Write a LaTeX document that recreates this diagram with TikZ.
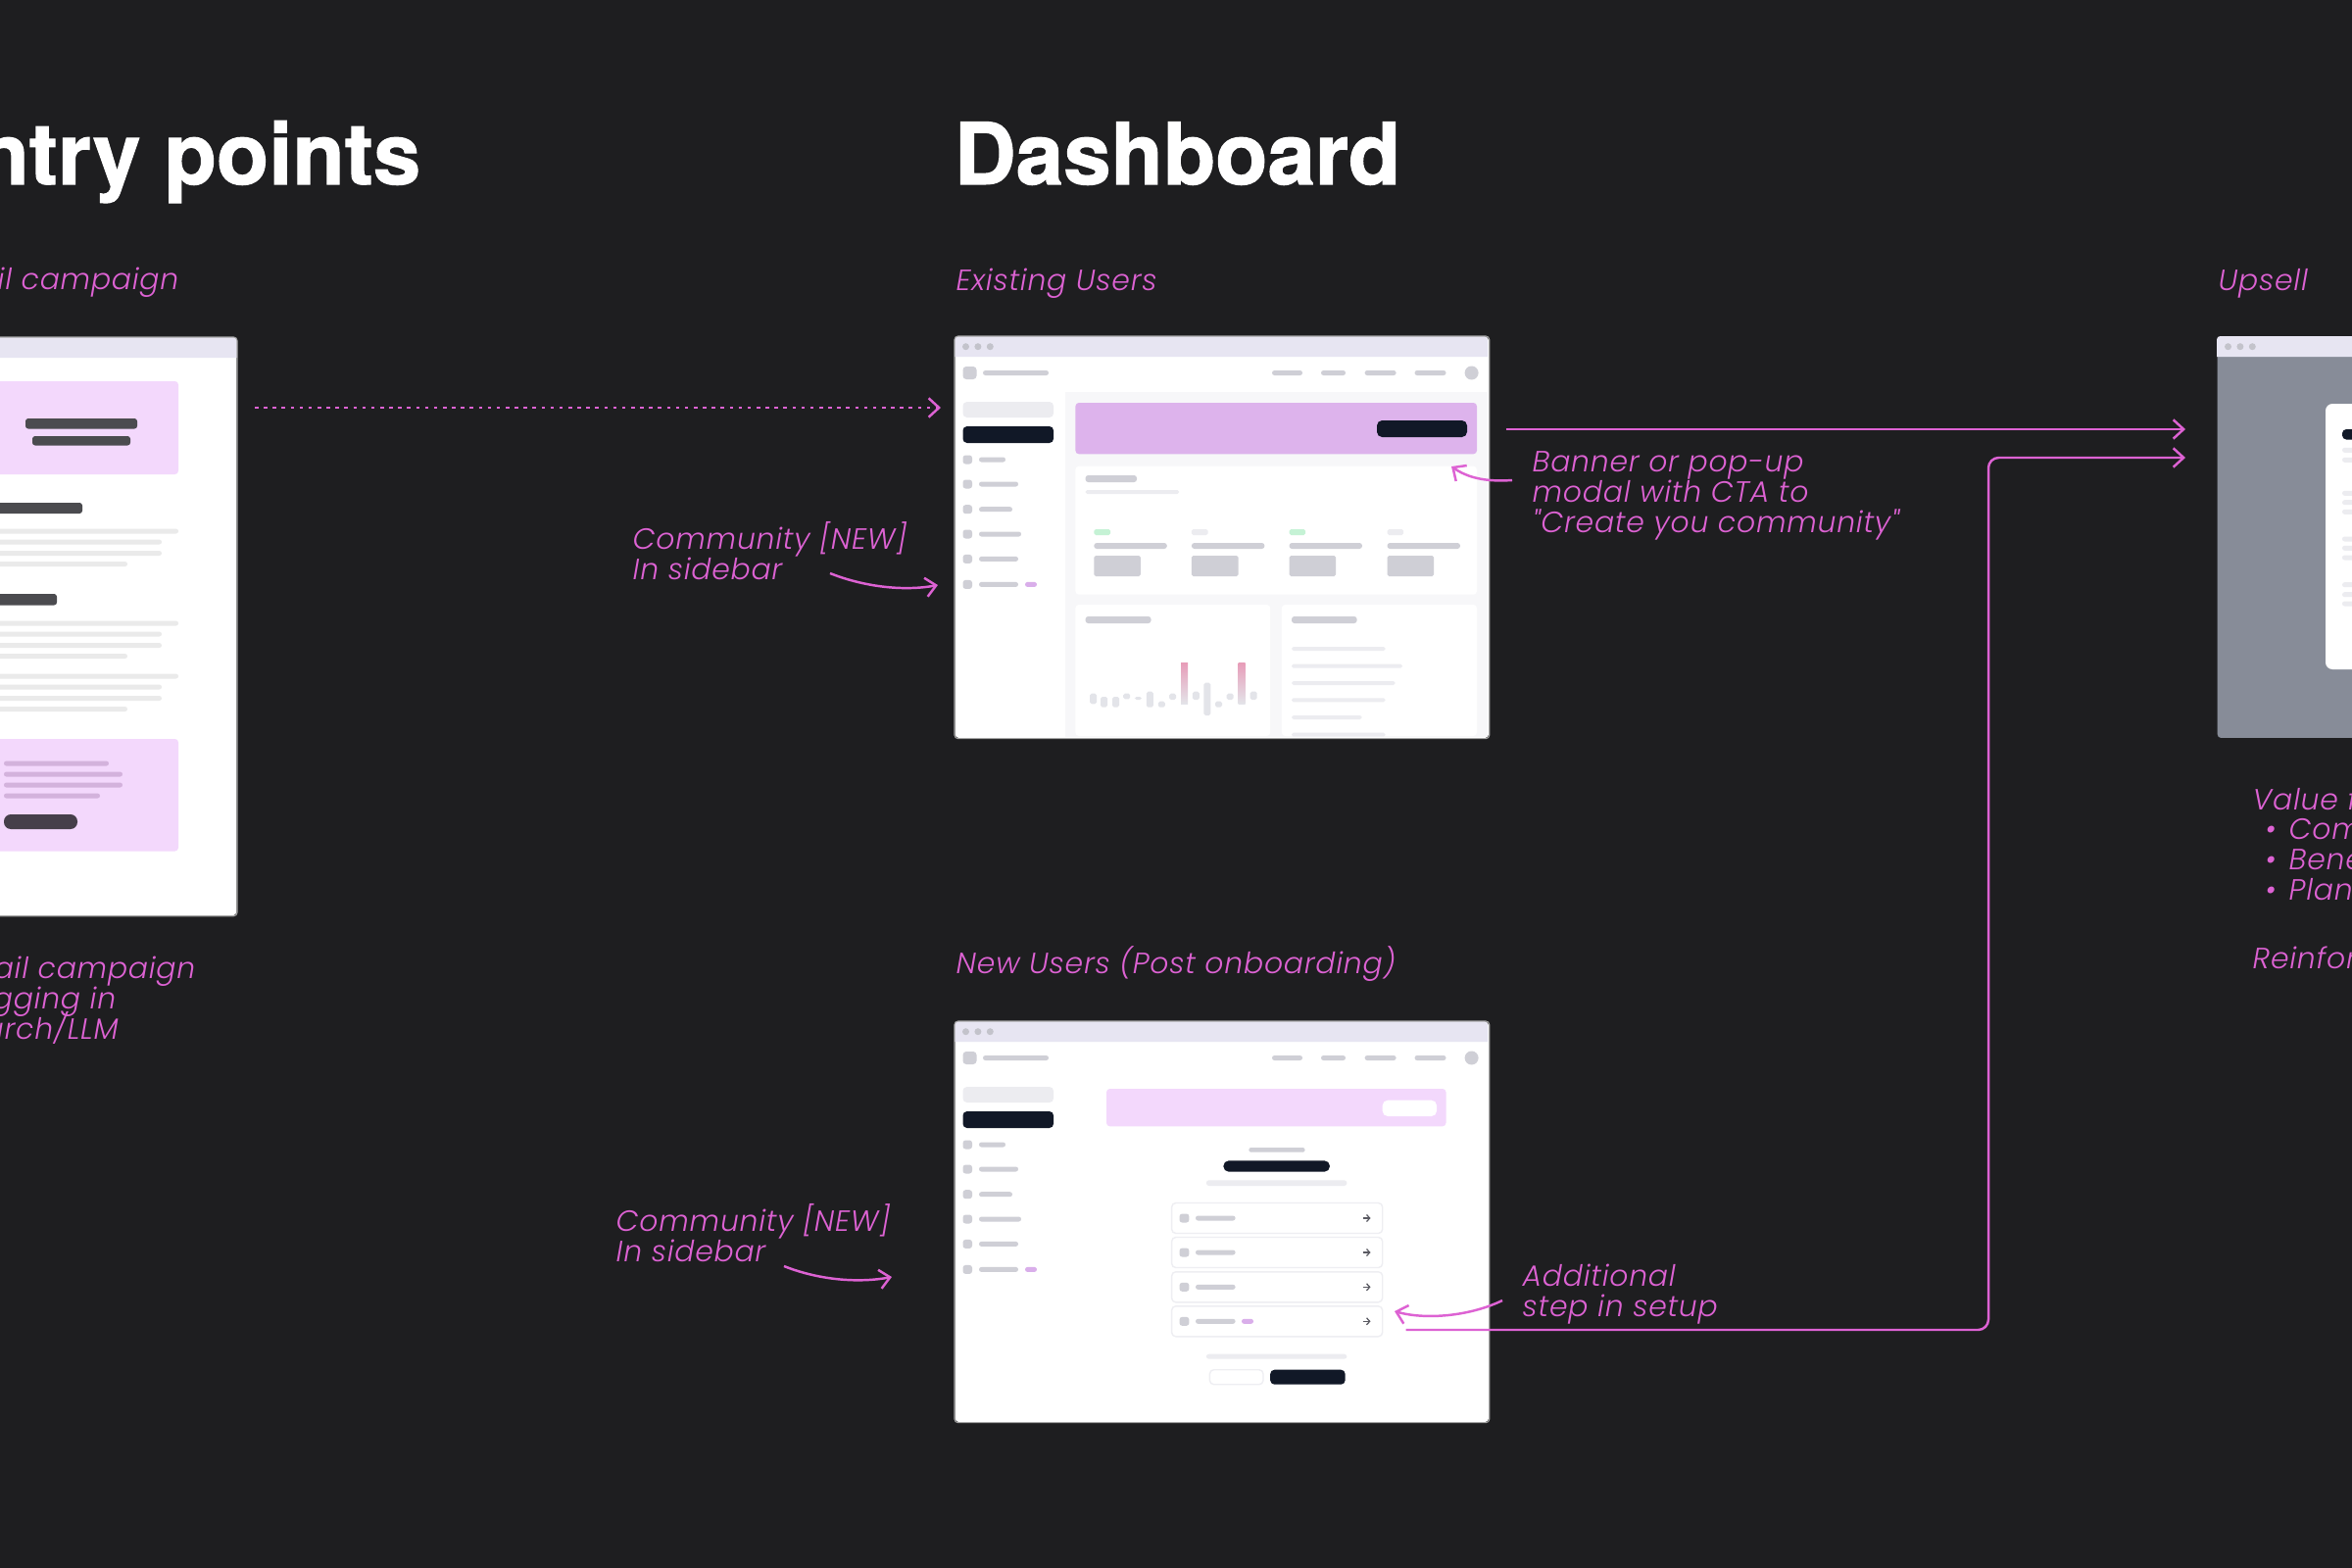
\documentclass[tikz,border=0pt]{standalone}
\usepackage{fontspec}
\setmainfont{TeX Gyre Heros}[BoldFeatures={FakeBold=1.2}]
\newfontfamily\handfont{Poppins Light Italic}[LetterSpace=2.5]
\newcommand\handtext{\handfont\fontsize{8.5}{8.7}\selectfont\setlength{\lineskiplimit}{-6pt}}
\usetikzlibrary{arrows.meta,calc}

\definecolor{bgdark}{HTML}{1E1E20}
\definecolor{notepink}{HTML}{DD62D3}
\definecolor{titlebar}{HTML}{E7E5F2}
\definecolor{dotgrey}{HTML}{C3C3CB}
\definecolor{uigrey}{HTML}{CFCFD6}
\definecolor{uilight}{HTML}{ECECF0}
\definecolor{uipane}{HTML}{F7F7F9}
\definecolor{uidark}{HTML}{111827}
\definecolor{bannerpurple}{HTML}{DDB3EC}
\definecolor{softpink}{HTML}{F3D8FC}
\definecolor{tagpink}{HTML}{D9AEEA}
\definecolor{taggreen}{HTML}{C5F2D5}
\definecolor{chartgrey}{HTML}{E3E4E9}
\definecolor{chartpink}{HTML}{E79DB9}
\definecolor{mailgrey}{HTML}{4B4B4F}
\definecolor{mailline}{HTML}{EAEAEA}
\definecolor{mailpinkline}{HTML}{D3B2DC}
\definecolor{mailbtn}{HTML}{463F4A}
\definecolor{dimmed}{HTML}{878C98}
\definecolor{rowedge}{HTML}{EEEEF2}
\definecolor{arrowgrey}{HTML}{5A5A62}

\begin{document}
\begin{tikzpicture}[x=0.01cm, y=-0.01cm,
    heading/.style={inner sep=0pt, text=white, font=\bfseries\fontsize{24.8}{28}\selectfont},
    hand/.style={inner sep=0pt, text=notepink, align=left, font=\handtext},
    frame/.style={fill=white, inner sep=0pt, rounded corners=1pt},
    rim/.style={draw=black!35, line width=0.3pt, rounded corners=1pt},
    flow/.style={draw=notepink, line width=0.7pt, -{Straight Barb[length=3pt, width=5.5pt]}},
    dotflow/.style={flow, dash pattern=on 1pt off 1.6pt}]

    % Define the small ui pieces
    \def\pill#1#2#3#4{\fill[#1, rounded corners=0.7pt] (#2,#4-2.5) rectangle (#3,#4+2.5);}
    \def\titlebar#1#2#3{
      \fill[titlebar] (#1,#3+21) [rounded corners=1pt] -- (#1,#3) -- (#2,#3) [sharp corners] -- (#2,#3+21) -- cycle;
      \foreach \i in {0,1,2} {\fill[dotgrey] (#1+11.5+12.4*\i, #3+10.7) circle (3.5);}
    }
    \def\appshell#1{
      \titlebar{974}{1518}{#1}
      \fill[uigrey, rounded corners=1pt] (982.5,#1+31) rectangle (996.5,#1+44);
      \pill{uigrey}{1003}{1070}{#1+37.5}
      \foreach \a/\b in {1298/1329, 1348/1373, 1392.6/1424.6, 1443.5/1475.5} {\pill{uigrey}{\a}{\b}{#1+37.5}}
      \fill[uigrey] (1501.6,#1+37.5) circle (7);
      \fill[uilight, rounded corners=1.2pt] (982.5,#1+67) rectangle (1075,#1+83);
      \fill[uidark, rounded corners=1.2pt] (982.5,#1+92) rectangle (1075,#1+109);
      \foreach \dy/\w in {126/1026, 151/1039, 176.7/1033, 202/1042, 227.4/1039, 253.4/1039} {
        \fill[uigrey, rounded corners=0.8pt] (982.5,#1+\dy-4.5) rectangle (992,#1+\dy+4.5);
        \pill{uigrey}{999}{\w}{#1+\dy}
      }
      \pill{tagpink}{1046}{1058}{#1+253.4}
    }

    % Canvas
    \useasboundingbox (0,0) rectangle (2400,1600);
    \clip (0,0) rectangle (2400,1600);
    \fill[bgdark] (0,0) rectangle (2400,1600);

    % Headings
    \node[heading, anchor=base east] (entryhead) at (430,188) {Entry points};
    \node[heading, anchor=base west] (dashhead) at (973,188) {Dashboard};

    % Column labels
    \node[hand, anchor=base east] (mailsub) at (183,295) {Email campaign};
    \node[hand, anchor=base west] (existsub) at (975,296) {Existing Users};
    \node[hand, anchor=base west] (newsub) at (975,993) {New Users (Post onboarding)};
    \node[hand, anchor=base west] (upsub) at (2263,296) {Upsell};

    % Email campaign frame
    \node[frame, anchor=north east, minimum width=3.2cm, minimum height=5.89cm] (email) at (242,344) {};
    \fill[titlebar] (-80,365) [rounded corners=1pt] -- (-80,344) -- (242,344) [sharp corners] -- (242,365) -- cycle;
    \fill[softpink, rounded corners=1pt] (-80,389) rectangle (182,484);
    \fill[mailgrey, rounded corners=0.8pt] (26,427) rectangle (140,437.5);
    \fill[mailgrey, rounded corners=0.8pt] (33,445) rectangle (133,454.5);
    \fill[mailgrey, rounded corners=0.8pt] (-80,513) rectangle (84,524);
    \fill[mailgrey, rounded corners=0.8pt] (-80,606) rectangle (58,617.5);
    \foreach \y in {542,636,690} {
      \foreach \dy/\w in {0/182, 11/165, 22.5/165, 33.5/130} {\pill{mailline}{-80}{\w}{\y+\dy}}
    }
    \fill[softpink, rounded corners=1pt] (-80,754) rectangle (182,868.5);
    \foreach \y/\w in {779/111, 790/125, 801/125, 812/102} {\pill{mailpinkline}{4}{\w}{\y}}
    \fill[mailbtn, rounded corners=2pt] (4,831) rectangle (79,846);
    \draw[rim] (email.north west) rectangle (email.south east);

    \node[hand, anchor=base east] (mailnote) at (200,1060) {Email campaign\\Blogging in\\Search/LLM};

    % Existing users frame
    \node[frame, anchor=north west, minimum width=5.44cm, minimum height=4.09cm] (existing) at (974,343) {};
    \fill[uipane] (1086.5,400) rectangle (1518,752);
    \appshell{343}
    \fill[bannerpurple, rounded corners=1pt] (1097.4,411) rectangle (1507,463.3);
    \fill[uidark, rounded corners=1.5pt] (1405,429) rectangle (1497,446);
    \fill[white, rounded corners=1pt] (1097.4,475.7) rectangle (1507,606.7);
    \fill[uigrey, rounded corners=0.8pt] (1107.6,485) rectangle (1160,492);
    \fill[uilight, rounded corners=0.5pt] (1107.6,500) rectangle (1203,504);
    \foreach \x/\c in {1116.3/taggreen, 1215.9/uilight, 1315.5/taggreen, 1415.5/uilight} {
      \fill[\c, rounded corners=0.5pt] (\x,540) rectangle (\x+16.7,546);
      \fill[uigrey, rounded corners=0.8pt] (\x,554) rectangle (\x+74.5,560);
      \fill[uigrey, rounded corners=0.5pt] (\x,567) rectangle (\x+47.6,588);
    }
    \fill[white, rounded corners=1pt] (1097.4,617) rectangle (1296.2,751);
    \fill[white, rounded corners=1pt] (1307.9,617) rectangle (1507,751);
    \fill[uigrey, rounded corners=0.8pt] (1107.6,629) rectangle (1174.5,636);
    \fill[uigrey, rounded corners=0.8pt] (1318,629) rectangle (1384.6,636);
    \foreach \x/\t/\b in {1115.6/707.7/718.3, 1126.5/711/721.7, 1138.5/711/721.7, 1149.7/707.7/713.3,
        1161.4/711/714, 1173.4/705.7/721.7, 1185.4/715.7/721.7, 1196.6/707.7/714, 1220.3/705.7/714,
        1231.9/696.7/730, 1243.5/715.7/721.7, 1255.2/707.7/714, 1279.2/705.7/714} {
      \fill[chartgrey, rounded corners=0.5pt] (\x-3.5,\t) rectangle (\x+3.5,\b);
    }
    \foreach \x in {1208.6,1267.2} {
      \shade[top color=chartpink, bottom color=chartgrey] (\x-3.5,676.7) rectangle (\x+3.5,718.3);
    }
    \foreach \y/\w in {662/1413.6, 679.7/1431, 697/1423.5, 714.3/1413.6, 732/1389.7, 749.7/1413.6} {
      \fill[uilight, rounded corners=0.5pt] (1318,\y-2) rectangle (\w,\y+2);
    }
    \draw[rim] (existing.north west) rectangle (existing.south east);

    % New users frame
    \node[frame, anchor=north west, minimum width=5.44cm, minimum height=4.08cm] (newusers) at (974,1042) {};
    \appshell{1042}
    \fill[softpink, rounded corners=1pt] (1129,1111) rectangle (1475.5,1149.3);
    \fill[white, rounded corners=1.5pt] (1410.7,1122.7) rectangle (1466,1139);
    \fill[uigrey, rounded corners=0.6pt] (1274.4,1171) rectangle (1331.5,1175.7);
    \fill[uidark, rounded corners=1.6pt] (1248.3,1184.3) rectangle (1357,1195.7);
    \fill[uilight, rounded corners=0.8pt] (1230.8,1204.3) rectangle (1374.4,1210);
    \foreach \c in {1243,1278,1313.3,1348.3} {
      \draw[rowedge, fill=white, rounded corners=1.2pt] (1195.6,\c-15.5) rectangle (1410.7,\c+15.5);
      \fill[uigrey, rounded corners=0.8pt] (1203.5,\c-4.5) rectangle (1213.4,\c+4.5);
      \pill{uigrey}{1220}{1260.6}{\c}
      \draw[arrowgrey, line width=0.35pt, -{Straight Barb[length=0.9pt, width=2pt]}] (1391,\c) -- (1398.5,\c);
    }
    \pill{tagpink}{1267}{1279}{1348.3}
    \fill[uilight, rounded corners=0.8pt] (1230.8,1381.7) rectangle (1374.4,1386.7);
    \draw[rowedge, fill=white, rounded corners=1.2pt] (1234.4,1397.7) rectangle (1289,1412.7);
    \fill[uidark, rounded corners=1.2pt] (1296.2,1397.7) rectangle (1372.6,1412.7);
    \draw[rim] (newusers.north west) rectangle (newusers.south east);

    % Upsell frame (dimmed, with modal)
    \node[frame, fill=dimmed, anchor=north west, minimum width=2.2cm, minimum height=4.09cm] (upsell) at (2262,343) {};
    \titlebar{2262}{2500}{343}
    \fill[white, rounded corners=2pt] (2373,412) rectangle (2500,683);
    \fill[uidark, rounded corners=1.2pt] (2390,438) rectangle (2500,448.5);
    \foreach \y in {459.3,469.3,503.3,512.7,522.3,550,559.3,569,596.7,606.7,616} {\pill{uilight}{2390}{2500}{\y}}

    \node[hand, anchor=base west] (valuenote) at (2298,918) {Value for users\\
      \makebox[10.5pt][l]{\hspace{3.7pt}\textbullet}Community\\
      \makebox[10.5pt][l]{\hspace{3.7pt}\textbullet}Benefits\\
      \makebox[10.5pt][l]{\hspace{3.7pt}\textbullet}Plans};
    \node[hand, anchor=base west] (reinforce) at (2298,988) {Reinforce the value};

    % Notes with arrows
    \node[hand, anchor=base west] (sidebarnote) at (645,591) {Community [NEW]\\In sidebar};
    \coordinate (sidebartail) at (847,585);
    \coordinate (sidebartip) at (957,597);
    \draw[flow] (sidebartail) .. controls (885,600) and (925,603) .. (sidebartip);

    \node[hand, anchor=base west] (sidebarnote2) at (628,1287) {Community [NEW]\\In sidebar};
    \coordinate (sidebartail2) at (800,1292);
    \coordinate (sidebartip2) at (910,1303);
    \draw[flow] (sidebartail2) .. controls (838,1307) and (878,1309) .. (sidebartip2);

    \node[hand, anchor=base west] (bannernote) at (1563,543) {Banner or pop-up\\modal with CTA to\\"Create you community"};
    \coordinate (bannertail) at (1543,490);
    \coordinate (bannertip) at (1481,476);
    \draw[flow] (bannertail) .. controls (1515,492) and (1497,487) .. (bannertip);

    \node[hand, anchor=base west] (setupnote) at (1553,1343) {Additional\\step in setup};
    \coordinate (setuptail) at (1533,1327);
    \coordinate (setuptip) at (1423,1338);
    \draw[flow] (setuptail) .. controls (1500,1343) and (1455,1347) .. (setuptip);

    % Flow between the screens
    \draw[dotflow] ($(email.north east)+(18,72)$) -- ($(existing.north west)+(-14,73)$);
    \draw[flow] ($(existing.north east)+(17,95)$) -- ($(upsell.north west)+(-32,95)$);
    \draw[flow, rounded corners=3pt] ($(newusers.north east)+(-85,315)$) -| (2029,467) -- ($(upsell.north west)+(-32,124)$);
  \end{tikzpicture}
\end{document}
